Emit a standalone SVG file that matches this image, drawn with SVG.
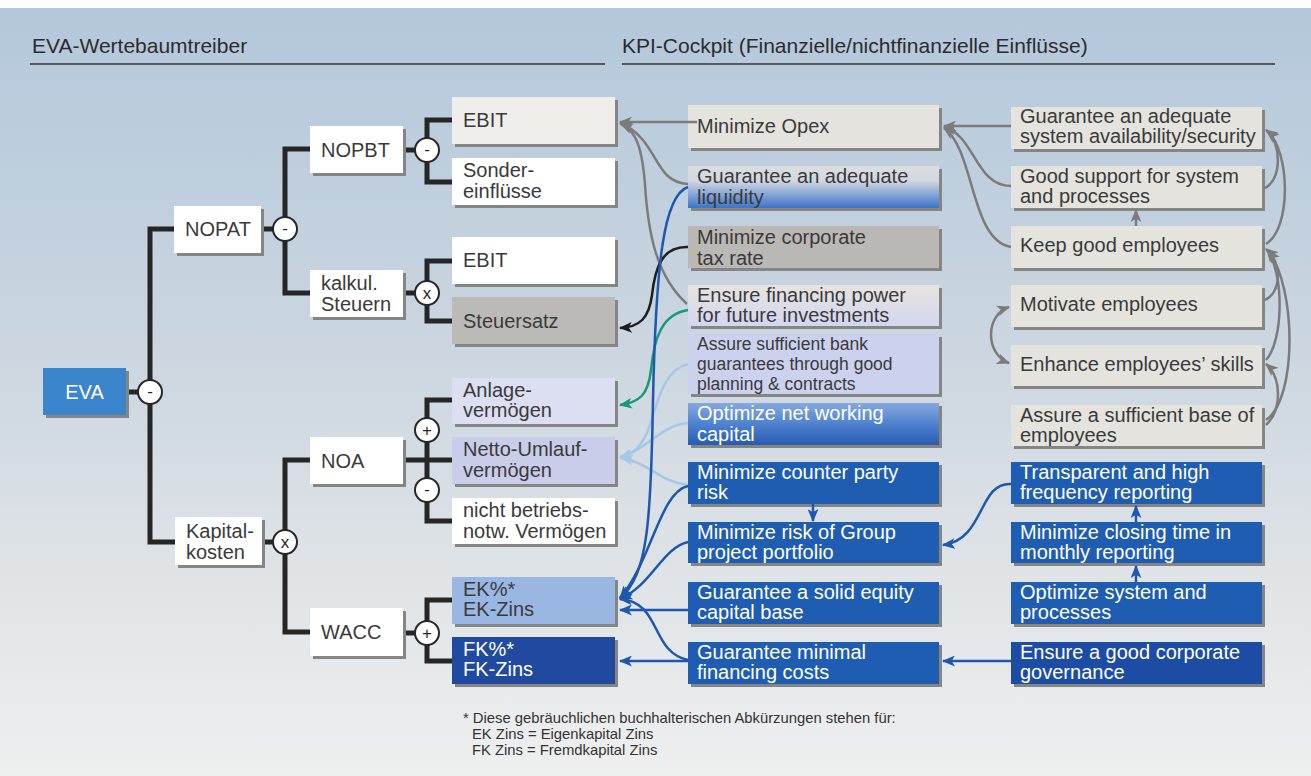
<svg xmlns="http://www.w3.org/2000/svg" width="1311" height="776" viewBox="0 0 1311 776">
<defs>
<linearGradient id="bg" x1="0" y1="0" x2="0" y2="1">
<stop offset="0" stop-color="#b3c7db"/>
<stop offset="0.45" stop-color="#cbd6e0"/>
<stop offset="0.75" stop-color="#e0e4e7"/>
<stop offset="1" stop-color="#eeefef"/>
</linearGradient>
<linearGradient id="gLiq" x1="0" y1="0" x2="0" y2="1">
<stop offset="0" stop-color="#dcdde0"/>
<stop offset="0.35" stop-color="#d2d7e1"/>
<stop offset="1" stop-color="#3a74cc"/>
</linearGradient>
<linearGradient id="gFin" x1="0" y1="0" x2="0" y2="1">
<stop offset="0" stop-color="#e6e4df"/>
<stop offset="1" stop-color="#d3d6f0"/>
</linearGradient>
<linearGradient id="gNwc" x1="0" y1="0" x2="0" y2="1">
<stop offset="0" stop-color="#86a9de"/>
<stop offset="0.5" stop-color="#4f82cf"/>
<stop offset="1" stop-color="#285ab3"/>
</linearGradient>
<marker id="mg" viewBox="0 0 12 10" refX="11" refY="5" markerWidth="13" markerHeight="11" markerUnits="userSpaceOnUse" orient="auto-start-reverse"><path d="M0,0 L12,5 L0,10 L3,5 z" fill="#7b7b7b"/></marker>
<marker id="mb" viewBox="0 0 12 10" refX="11" refY="5" markerWidth="13" markerHeight="11" markerUnits="userSpaceOnUse" orient="auto"><path d="M0,0 L12,5 L0,10 L3,5 z" fill="#1d57ae"/></marker>
<marker id="mk" viewBox="0 0 12 10" refX="11" refY="5" markerWidth="13" markerHeight="11" markerUnits="userSpaceOnUse" orient="auto"><path d="M0,0 L12,5 L0,10 L3,5 z" fill="#1e1e1e"/></marker>
<marker id="mt" viewBox="0 0 12 10" refX="11" refY="5" markerWidth="13" markerHeight="11" markerUnits="userSpaceOnUse" orient="auto"><path d="M0,0 L12,5 L0,10 L3,5 z" fill="#17997c"/></marker>
<marker id="ml" viewBox="0 0 12 10" refX="11" refY="5" markerWidth="13" markerHeight="11" markerUnits="userSpaceOnUse" orient="auto"><path d="M0,0 L12,5 L0,10 L3,5 z" fill="#a6c6ea"/></marker>
</defs>
<style>
.sh{fill:#858583}
.t{font-family:"Liberation Sans",Arial,sans-serif;font-size:20px;fill:#3a3a3a}
.s{font-size:17.5px}
.w{fill:#ffffff}
.hd{font-family:"Liberation Sans",Arial,sans-serif;font-size:21px;fill:#2c2c2c}
.fn{font-family:"Liberation Sans",Arial,sans-serif;font-size:14.8px;fill:#333333}
.tree{fill:none;stroke:#262626;stroke-width:5}
.op{fill:#ffffff;stroke:#262626;stroke-width:2}
.opt{font-family:"Liberation Sans",Arial,sans-serif;font-size:17px;fill:#262626;text-anchor:middle}
.white{fill:#ffffff}
.lgray{fill:#e4e3de}
.blue{fill:#1f5db2}
.cg{fill:none;stroke:#7b7b7b;stroke-width:2.5}
.cb{fill:none;stroke:#1d57ae;stroke-width:2.5}
.ck{fill:none;stroke:#1e1e1e;stroke-width:2.5}
.ct{fill:none;stroke:#17997c;stroke-width:2.5}
.cl{fill:none;stroke:#a6c6ea;stroke-width:2.5}
</style>
<rect x="0" y="0" width="1311" height="776" fill="url(#bg)"/>
<rect x="0" y="0" width="1311" height="8" fill="#ffffff"/>

<g id="headers">
<text class="hd" x="32" y="53">EVA-Wertebaumtreiber</text>
<line x1="30" y1="64" x2="605" y2="64" stroke="#333" stroke-width="1.5"/>
<text class="hd" x="622" y="53">KPI-Cockpit (Finanzielle/nichtfinanzielle Einflüsse)</text>
<line x1="622" y1="64" x2="1275" y2="64" stroke="#333" stroke-width="1.5"/>
</g>

<g id="tree-lines">
<path class="tree" d="M126 392 H150"/>
<path class="tree" d="M174 229 H150 V542 H175"/>
<path class="tree" d="M261 229 H285"/>
<path class="tree" d="M310 149 H285 V293 H310"/>
<path class="tree" d="M403 150 H427"/>
<path class="tree" d="M452 120 H427 V182 H452"/>
<path class="tree" d="M403 293 H427"/>
<path class="tree" d="M452 261 H427 V321 H452"/>
<path class="tree" d="M262 542 H285"/>
<path class="tree" d="M310 460 H285 V632 H310"/>
<path class="tree" d="M403 460 H452"/>
<path class="tree" d="M452 400 H427 V521 H452"/>
<path class="tree" d="M403 633 H427"/>
<path class="tree" d="M452 600 H427 V661 H452"/>
</g>

<g id="operators">
<circle class="op" cx="150" cy="392" r="12"/><text class="opt" x="150" y="397">-</text>
<circle class="op" cx="285" cy="229" r="12"/><text class="opt" x="285" y="234">-</text>
<circle class="op" cx="427" cy="150" r="12"/><text class="opt" x="427" y="155">-</text>
<circle class="op" cx="427" cy="293" r="12"/><text class="opt" x="427" y="299">x</text>
<circle class="op" cx="285" cy="542" r="12"/><text class="opt" x="285" y="548">x</text>
<circle class="op" cx="427" cy="430" r="12"/><text class="opt" x="427" y="436">+</text>
<circle class="op" cx="427" cy="490" r="12"/><text class="opt" x="427" y="495">-</text>
<circle class="op" cx="427" cy="633" r="12"/><text class="opt" x="427" y="639">+</text>
</g>

<g id="n-eva"><rect class="sh" x="46" y="371" width="83" height="47"/><rect x="43" y="368" width="83" height="47" fill="#3a85cc"/><text class="t w" x="84.5" y="399" text-anchor="middle">EVA</text></g>
<g id="n-nopat"><rect class="sh" x="177" y="209" width="87" height="47"/><rect class="white" x="174" y="206" width="87" height="47"/><text class="t" x="185" y="236">NOPAT</text></g>
<g id="n-nopbt"><rect class="sh" x="313" y="129" width="93" height="47"/><rect class="white" x="310" y="126" width="93" height="47"/><text class="t" x="321" y="157">NOPBT</text></g>
<g id="n-kalkul"><rect class="sh" x="313" y="273" width="93" height="47"/><rect class="white" x="310" y="270" width="93" height="47"/><text class="t" x="321" y="290">kalkul.</text><text class="t" x="321" y="311">Steuern</text></g>
<g id="n-ebit1"><rect class="sh" x="455" y="100" width="163" height="47"/><rect x="452" y="97" width="163" height="47" fill="#efeeeb"/><text class="t" x="463" y="127">EBIT</text></g>
<g id="n-sonder"><rect class="sh" x="455" y="161" width="163" height="47"/><rect class="white" x="452" y="158" width="163" height="47"/><text class="t" x="463" y="177">Sonder-</text><text class="t" x="463" y="198">einflüsse</text></g>
<g id="n-ebit2"><rect class="sh" x="455" y="240" width="163" height="47"/><rect class="white" x="452" y="237" width="163" height="47"/><text class="t" x="463" y="267">EBIT</text></g>
<g id="n-steuersatz"><rect class="sh" x="455" y="300" width="163" height="47"/><rect x="452" y="297" width="163" height="47" fill="#bbbab6"/><text class="t" x="463" y="328">Steuersatz</text></g>
<g id="n-kapital"><rect class="sh" x="178" y="520" width="87" height="48"/><rect class="white" x="175" y="517" width="87" height="48"/><text class="t" x="186" y="538">Kapital-</text><text class="t" x="186" y="559">kosten</text></g>
<g id="n-noa"><rect class="sh" x="313" y="440" width="93" height="47"/><rect class="white" x="310" y="437" width="93" height="47"/><text class="t" x="321" y="468">NOA</text></g>
<g id="n-wacc"><rect class="sh" x="313" y="611" width="93" height="48"/><rect class="white" x="310" y="608" width="93" height="48"/><text class="t" x="321" y="639">WACC</text></g>
<g id="n-anlage"><rect class="sh" x="455" y="381" width="163" height="46"/><rect x="452" y="378" width="163" height="46" fill="#dcdef1"/><text class="t" x="463" y="397">Anlage-</text><text class="t" x="463" y="417">vermögen</text></g>
<g id="n-netto"><rect class="sh" x="455" y="440" width="163" height="47"/><rect x="452" y="437" width="163" height="47" fill="#c9cdea"/><text class="t" x="463" y="456">Netto-Umlauf-</text><text class="t" x="463" y="477">vermögen</text></g>
<g id="n-nicht"><rect class="sh" x="455" y="501" width="163" height="46"/><rect class="white" x="452" y="498" width="163" height="46"/><text class="t" x="463" y="517">nicht betriebs-</text><text class="t" x="463" y="538">notw. Vermögen</text></g>
<g id="n-ek"><rect class="sh" x="455" y="580" width="163" height="47"/><rect x="452" y="577" width="163" height="47" fill="#9ab7e3"/><text class="t" x="463" y="596">EK%*</text><text class="t" x="463" y="616">EK-Zins</text></g>
<g id="n-fk"><rect class="sh" x="455" y="640" width="163" height="47"/><rect x="452" y="637" width="163" height="47" fill="#1f4aa0"/><text class="t w" x="463" y="656">FK%*</text><text class="t w" x="463" y="676">FK-Zins</text></g>

<g id="m-opex"><rect class="sh" x="691" y="108" width="251" height="43"/><rect x="688" y="105" width="251" height="43" fill="#e4e3de"/><text class="t" x="697" y="133">Minimize Opex</text></g>
<g id="m-liquidity"><rect class="sh" x="691" y="169" width="251" height="42"/><rect x="688" y="166" width="251" height="42" fill="url(#gLiq)"/><text class="t" x="697" y="183">Guarantee an adequate</text><text class="t" x="697" y="204">liquidity</text></g>
<g id="m-tax"><rect class="sh" x="691" y="229" width="251" height="42"/><rect x="688" y="226" width="251" height="42" fill="#b9b8b4"/><text class="t" x="697" y="244">Minimize corporate</text><text class="t" x="697" y="265">tax rate</text></g>
<g id="m-financing"><rect class="sh" x="691" y="288" width="251" height="41"/><rect x="688" y="285" width="251" height="41" fill="url(#gFin)"/><text class="t" x="697" y="302">Ensure financing power</text><text class="t" x="697" y="322">for future investments</text></g>
<g id="m-bank"><rect class="sh" x="691" y="337" width="251" height="60"/><rect x="688" y="334" width="251" height="60" fill="#ccd1ee"/><text class="t s" x="697" y="350">Assure sufficient bank</text><text class="t s" x="697" y="370">guarantees through good</text><text class="t s" x="697" y="390">planning &amp; contracts</text></g>
<g id="m-nwc"><rect class="sh" x="691" y="406" width="251" height="42"/><rect x="688" y="403" width="251" height="42" fill="url(#gNwc)"/><text class="t w" x="697" y="420">Optimize net working</text><text class="t w" x="697" y="441">capital</text></g>
<g id="m-counter"><rect class="sh" x="691" y="465" width="251" height="42"/><rect class="blue" x="688" y="462" width="251" height="42"/><text class="t w" x="697" y="479">Minimize counter party</text><text class="t w" x="697" y="499">risk</text></g>
<g id="m-group"><rect class="sh" x="691" y="525" width="251" height="41"/><rect class="blue" x="688" y="522" width="251" height="41"/><text class="t w" x="697" y="539">Minimize risk of Group</text><text class="t w" x="697" y="559">project portfolio</text></g>
<g id="m-equity"><rect class="sh" x="691" y="585" width="251" height="42"/><rect class="blue" x="688" y="582" width="251" height="42"/><text class="t w" x="697" y="599">Guarantee a solid equity</text><text class="t w" x="697" y="619">capital base</text></g>
<g id="m-fincost"><rect class="sh" x="691" y="645" width="251" height="42"/><rect class="blue" x="688" y="642" width="251" height="42"/><text class="t w" x="697" y="659">Guarantee minimal</text><text class="t w" x="697" y="679">financing costs</text></g>

<g id="r-system"><rect class="sh" x="1014" y="110" width="251" height="42"/><rect class="lgray" x="1011" y="107" width="251" height="42"/><text class="t" x="1020" y="123">Guarantee an adequate</text><text class="t" x="1020" y="143">system availability/security</text></g>
<g id="r-support"><rect class="sh" x="1014" y="169" width="251" height="42"/><rect class="lgray" x="1011" y="166" width="251" height="42"/><text class="t" x="1020" y="183">Good support for system</text><text class="t" x="1020" y="203">and processes</text></g>
<g id="r-keep"><rect class="sh" x="1014" y="229" width="251" height="42"/><rect class="lgray" x="1011" y="226" width="251" height="42"/><text class="t" x="1020" y="252">Keep good employees</text></g>
<g id="r-motivate"><rect class="sh" x="1014" y="288" width="251" height="42"/><rect class="lgray" x="1011" y="285" width="251" height="42"/><text class="t" x="1020" y="311">Motivate employees</text></g>
<g id="r-enhance"><rect class="sh" x="1014" y="348" width="251" height="41"/><rect class="lgray" x="1011" y="345" width="251" height="41"/><text class="t" x="1020" y="371">Enhance employees’ skills</text></g>
<g id="r-base"><rect class="sh" x="1014" y="408" width="251" height="41"/><rect class="lgray" x="1011" y="405" width="251" height="41"/><text class="t" x="1020" y="422">Assure a sufficient base of</text><text class="t" x="1020" y="442">employees</text></g>
<g id="r-transparent"><rect class="sh" x="1014" y="465" width="251" height="42"/><rect class="blue" x="1011" y="462" width="251" height="42"/><text class="t w" x="1020" y="479">Transparent and high</text><text class="t w" x="1020" y="499">frequency reporting</text></g>
<g id="r-closing"><rect class="sh" x="1014" y="525" width="251" height="41"/><rect class="blue" x="1011" y="522" width="251" height="41"/><text class="t w" x="1020" y="539">Minimize closing time in</text><text class="t w" x="1020" y="559">monthly reporting</text></g>
<g id="r-optimize"><rect class="sh" x="1014" y="585" width="251" height="42"/><rect class="blue" x="1011" y="582" width="251" height="42"/><text class="t w" x="1020" y="599">Optimize system and</text><text class="t w" x="1020" y="619">processes</text></g>
<g id="r-governance"><rect class="sh" x="1014" y="645" width="251" height="42"/><rect x="1011" y="642" width="251" height="42" fill="#1d4ca5"/><text class="t w" x="1020" y="659">Ensure a good corporate</text><text class="t w" x="1020" y="679">governance</text></g>

<g id="connectors">
<path class="cg" d="M697 122 H620" marker-end="url(#mg)"/>
<path class="cg" d="M688 184 C652 182, 660 140, 620 123" marker-end="url(#mg)"/>
<path class="cg" d="M687 304 C655 275, 648 230, 645 185 C642 145, 635 130, 621 124" marker-end="url(#mg)"/>
<path class="cg" d="M1011 126 H944" marker-end="url(#mg)"/>
<path class="cg" d="M1011 186 C975 186, 975 135, 944 127" marker-end="url(#mg)"/>
<path class="cg" d="M1011 247 C970 240, 975 150, 944 128" marker-end="url(#mg)"/>
<path class="cg" d="M1136 226 V210" marker-end="url(#mg)"/>
<path class="cg" d="M1265 188 C1282 180, 1282 142, 1266 130" marker-end="url(#mg)"/>
<path class="cg" d="M1266 244 C1292 228, 1290 150, 1267 131" marker-end="url(#mg)"/>
<path class="cg" d="M1265 300 C1282 292, 1282 262, 1266 249" marker-end="url(#mg)"/>
<path class="cg" d="M1266 360 C1284 340, 1284 272, 1267 250" marker-end="url(#mg)"/>
<path class="cg" d="M1266 420 C1298 398, 1296 285, 1268 251" marker-end="url(#mg)"/>
<path class="cg" d="M1266 425 C1282 410, 1282 378, 1266 364" marker-end="url(#mg)"/>
<path class="cg" d="M1009 307 C985 315, 985 354, 1009 363" marker-start="url(#mg)" marker-end="url(#mg)"/>

<path class="ck" d="M688 247 C662 246, 655 268, 652 295 C649 318, 640 327, 620 328" marker-end="url(#mk)"/>
<path class="ct" d="M688 310 C662 314, 654 338, 651 370 C648 395, 640 402, 620 405" marker-end="url(#mt)"/>

<path class="cl" d="M688 364 C664 370, 658 400, 650 425 C642 448, 632 455, 620 457" marker-end="url(#ml)"/>
<path class="cl" d="M688 423 C660 425, 648 450, 620 457" marker-end="url(#ml)"/>
<path class="cl" d="M688 485 C660 482, 648 462, 621 458" marker-end="url(#ml)"/>

<path class="cb" d="M688 187 C664 195, 656 260, 653 400 C651 520, 648 575, 620 598" marker-end="url(#mb)"/>
<path class="cb" d="M688 486 C660 492, 652 560, 620 598" marker-end="url(#mb)"/>
<path class="cb" d="M688 542 C662 548, 652 585, 620 599" marker-end="url(#mb)"/>
<path class="cb" d="M688 660 C650 652, 662 602, 620 599" marker-end="url(#mb)"/>
<path class="cb" d="M688 610 H620" marker-end="url(#mb)"/>
<path class="cb" d="M688 661 H620" marker-end="url(#mb)"/>
<path class="cb" d="M1011 661 H943" marker-end="url(#mb)"/>
<path class="cb" d="M813 504 V521" marker-end="url(#mb)"/>
<path class="cb" d="M1011 484 C978 482, 985 540, 943 545" marker-end="url(#mb)"/>
<path class="cb" d="M1136 522 V506" marker-end="url(#mb)"/>
<path class="cb" d="M1136 582 V566" marker-end="url(#mb)"/>
</g>

<g id="footnote">
<text class="fn" x="463" y="723">* Diese gebräuchlichen buchhalterischen Abkürzungen stehen für:</text>
<text class="fn" x="472" y="739">EK Zins = Eigenkapital Zins</text>
<text class="fn" x="472" y="755">FK Zins = Fremdkapital Zins</text>
</g>
</svg>
